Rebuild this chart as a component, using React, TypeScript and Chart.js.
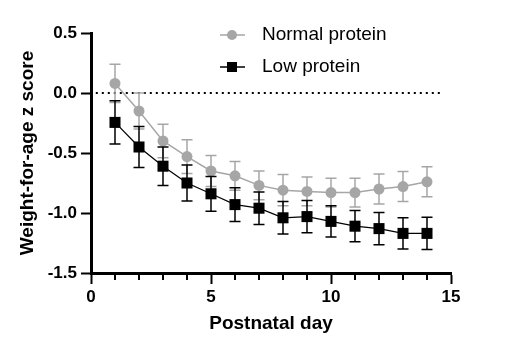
import { useEffect, useRef } from 'react';
import { Chart, registerables } from 'chart.js';

Chart.register(...registerables);

// ---- data ----
const days = [1, 2, 3, 4, 5, 6, 7, 8, 9, 10, 11, 12, 13, 14];
const normalMean = [0.08, -0.15, -0.4, -0.53, -0.65, -0.69, -0.77, -0.81, -0.82, -0.83, -0.83, -0.8, -0.78, -0.74];
const normalErr = [0.16, 0.15, 0.14, 0.14, 0.13, 0.12, 0.12, 0.13, 0.12, 0.12, 0.12, 0.125, 0.125, 0.125];
const lowMean = [-0.245, -0.45, -0.61, -0.75, -0.84, -0.93, -0.96, -1.04, -1.03, -1.07, -1.11, -1.13, -1.17, -1.17];
const lowErr = [0.18, 0.17, 0.16, 0.15, 0.145, 0.14, 0.135, 0.135, 0.135, 0.13, 0.13, 0.135, 0.13, 0.135];
const seriesNames = ['Normal protein', 'Low protein'];
const xTitle = 'Postnatal day';
const yTitle = 'Weight-for-age z score';
const xMin = 0;
const xMax = 15;
const xMajorStep = 5;
const yMin = -1.5;
const yMax = 0.5;
const yStep = 0.5;
const referenceY = 0;

const FONT = '"Liberation Sans", Arial, Helvetica, sans-serif';
const GREY = '#a6a6a6';
const BLACK = '#000000';

const errorBarPlugin = {
  id: 'errorBars',
  beforeDatasetDraw(chart: any, args: any) {
    const ds = chart.data.datasets[args.index];
    const errs: number[] | undefined = ds.errors;
    if (!errs) return;
    const ys = chart.scales.y;
    const ctx = chart.ctx;
    ctx.save();
    ctx.strokeStyle = ds.borderColor;
    ctx.lineWidth = 1.5;
    args.meta.data.forEach((pt: any, i: number) => {
      const v = ds.data[i].y;
      const x = pt.x;
      const top = ys.getPixelForValue(v + errs[i]);
      const bot = ys.getPixelForValue(v - errs[i]);
      ctx.beginPath();
      ctx.moveTo(x, top);
      ctx.lineTo(x, bot);
      ctx.moveTo(x - 5.5, top);
      ctx.lineTo(x + 5.5, top);
      ctx.moveTo(x - 5.5, bot);
      ctx.lineTo(x + 5.5, bot);
      ctx.stroke();
    });
    ctx.restore();
  },
};

const decorPlugin = {
  id: 'decor',
  beforeDatasetsDraw(chart: any) {
    const { ctx, scales } = chart;
    const xs = scales.x;
    const ys = scales.y;
    const y0 = ys.getPixelForValue(referenceY);
    ctx.save();
    ctx.strokeStyle = BLACK;
    ctx.lineWidth = 2;
    ctx.setLineDash([2, 4]);
    ctx.beginPath();
    ctx.moveTo(xs.getPixelForValue(xMin + 0.2), y0);
    ctx.lineTo(xs.getPixelForValue(xMax - 0.3), y0);
    ctx.stroke();
    ctx.setLineDash([]);
    // minor x ticks
    ctx.lineWidth = 2;
    for (let d = xMin + 1; d < xMax; d++) {
      if (d % xMajorStep === 0) continue;
      const px = xs.getPixelForValue(d);
      ctx.beginPath();
      ctx.moveTo(px, chart.chartArea.bottom);
      ctx.lineTo(px, chart.chartArea.bottom + 7);
      ctx.stroke();
    }
    ctx.restore();
  },
  afterDraw(chart: any) {
    const ctx = chart.ctx;
    ctx.save();
    const items = [
      { name: seriesNames[0], color: GREY, shape: 'circle', y: 35 },
      { name: seriesNames[1], color: BLACK, shape: 'rect', y: 67 },
    ];
    items.forEach((it) => {
      const cx = 232;
      ctx.strokeStyle = it.color;
      ctx.fillStyle = it.color;
      ctx.lineWidth = 1.5;
      ctx.beginPath();
      ctx.moveTo(220, it.y);
      ctx.lineTo(245, it.y);
      ctx.stroke();
      ctx.beginPath();
      if (it.shape === 'circle') {
        ctx.arc(cx, it.y, 5, 0, Math.PI * 2);
      } else {
        ctx.rect(cx - 5, it.y - 5, 10, 10);
      }
      ctx.fill();
      ctx.fillStyle = BLACK;
      ctx.font = `19px ${FONT}`;
      ctx.textAlign = 'left';
      ctx.textBaseline = 'middle';
      ctx.fillText(it.name, 262, it.y);
    });
    ctx.restore();
  },
};

export default function App() {
  const ref = useRef<HTMLCanvasElement | null>(null);
  useEffect(() => {
    document.body.style.margin = '0';
    const canvas = ref.current;
    if (!canvas) return;
    const chart = new Chart(canvas, {
      type: 'line',
      data: {
        datasets: [
          {
            label: seriesNames[0],
            data: days.map((d, i) => ({ x: d, y: normalMean[i] })),
            errors: normalErr,
            borderColor: GREY,
            backgroundColor: GREY,
            borderWidth: 1.5,
            pointRadius: 5.5,
            pointStyle: 'circle',
            pointBorderWidth: 0,
            order: 1,
          } as any,
          {
            label: seriesNames[1],
            data: days.map((d, i) => ({ x: d, y: lowMean[i] })),
            errors: lowErr,
            borderColor: BLACK,
            backgroundColor: BLACK,
            borderWidth: 1.2,
            pointRadius: 7.8,
            pointStyle: 'rect',
            pointBorderWidth: 0,
            order: 0,
          } as any,
        ],
      },
      options: {
        animation: false,
        responsive: false,
        devicePixelRatio: 1,
        layout: { padding: { top: 33, right: 57, left: 0, bottom: 0 } },
        plugins: { legend: { display: false }, tooltip: { enabled: false } },
        scales: {
          x: {
            type: 'linear',
            min: xMin,
            max: xMax,
            afterFit: (s: any) => {
              s.height = 81;
            },
            border: { display: true, color: BLACK, width: 3 },
            grid: {
              display: true,
              drawOnChartArea: false,
              drawTicks: true,
              tickLength: 11,
              tickWidth: 2,
              tickColor: (c: any) => (c.tick && c.tick.value % xMajorStep === 0 ? BLACK : 'rgba(0,0,0,0)'),
            },
            ticks: {
              stepSize: 1,
              autoSkip: false,
              maxRotation: 0,
              padding: 3,
              color: BLACK,
              font: { family: FONT, size: 17, weight: 'bold' },
              callback: (v: any) => (Number(v) % xMajorStep === 0 ? String(v) : ''),
            },
            title: {
              display: true,
              text: xTitle,
              color: BLACK,
              font: { family: FONT, size: 19, weight: 'bold' },
              padding: { top: 0, bottom: 19 },
            },
          },
          y: {
            type: 'linear',
            min: yMin,
            max: yMax,
            afterFit: (s: any) => {
              s.width = 91;
            },
            border: { display: true, color: BLACK, width: 3 },
            grid: {
              display: true,
              drawOnChartArea: false,
              drawTicks: true,
              tickLength: 10,
              tickWidth: 2,
              tickColor: BLACK,
            },
            ticks: {
              stepSize: yStep,
              padding: 4,
              color: BLACK,
              font: { family: FONT, size: 17, weight: 'bold' },
              callback: (v: any) => Number(v).toFixed(1),
            },
            title: {
              display: true,
              text: yTitle,
              color: BLACK,
              font: { family: FONT, size: 19, weight: 'bold' },
              padding: { top: 16, bottom: 0 },
            },
          },
        },
      } as any,
      plugins: [errorBarPlugin, decorPlugin],
    });
    return () => chart.destroy();
  }, []);
  return (
    <div style={{ width: 508, height: 354 }}>
      <canvas ref={ref} width={508} height={354} />
    </div>
  );
}
